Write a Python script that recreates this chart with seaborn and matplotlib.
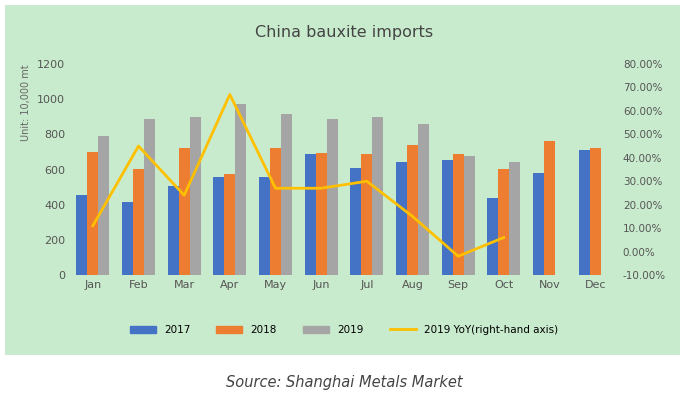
import matplotlib
matplotlib.use("Agg")
import matplotlib.pyplot as plt
import matplotlib.patches as mpatches
import seaborn as sns
import pandas as pd
import numpy as np

months = ["Jan","Feb","Mar","Apr","May","Jun","Jul","Aug","Sep","Oct","Nov","Dec"]
v2017 = [455, 415, 505, 555, 560, 690, 610, 645, 655, 440, 580, 710]
v2018 = [700, 605, 725, 575, 720, 695, 690, 740, 690, 605, 760, 720]
v2019 = [790, 890, 900, 970, 915, 890, 900, 860, 675, 645, np.nan, np.nan]
yoy2019 = [11, 45, 24, 67, 27, 27, 30, 15, -2, 6]

df = pd.DataFrame({"month": months * 3,
                   "year": ["2017"]*12 + ["2018"]*12 + ["2019"]*12,
                   "value": v2017 + v2018 + v2019})

green = "#c9ebcd"
fig = plt.figure(figsize=(6.88, 4.01), dpi=100)
fig.patches.append(mpatches.Rectangle((5/688, 1-355/401), 675/688, 350/401,
                   transform=fig.transFigure, facecolor=green, edgecolor="none", zorder=-10))
ax = fig.add_axes([70/688, 126/401, 548/688, 211/401])
ax.set_facecolor(green)
pal = {"2017": "#4472C4", "2018": "#ED7D31", "2019": "#A5A5A5"}
sns.barplot(data=df, x="month", y="value", hue="year", palette=pal, ax=ax,
            width=0.72, gap=0.0, legend=False, saturation=1)
ax.set_ylim(0, 1200)
ax.set_yticks(range(0, 1201, 200))
ax.set_xlim(-0.5, 11.5)
ax.set_xlabel("")
ax.set_ylabel("Unit: 10,000 mt", fontsize=7, color="#666666", loc="top")
for s in ax.spines.values(): s.set_visible(False)
ax.tick_params(length=0, labelsize=8, colors="#555555")

ax2 = ax.twinx()
sns.lineplot(x=list(range(10)), y=yoy2019, ax=ax2, color="#FFC000", linewidth=2)
ax2.set_ylim(-10, 80)
ax2.set_yticks(range(-10, 81, 10))
ax2.set_yticklabels([f"{t:.2f}%" for t in range(-10, 81, 10)])
for s in ax2.spines.values(): s.set_visible(False)
ax2.tick_params(length=0, labelsize=7.5, colors="#555555")

fig.text(0.5, 1-32/401, "China bauxite imports", ha="center", va="center", fontsize=11.5, color="#444444")
handles = [mpatches.Patch(color=pal[k]) for k in pal] + [plt.Line2D([], [], color="#FFC000", lw=2)]
fig.legend(handles, ["2017", "2018", "2019", "2019 YoY(right-hand axis)"], loc="center",
           bbox_to_anchor=(0.5, 1-330/401), ncol=4, frameon=False, fontsize=7.5,
           handlelength=2.5, columnspacing=2.5)
fig.text(0.5, 1-382/401, "Source: Shanghai Metals Market", ha="center", va="center",
         fontsize=10.5, style="italic", color="#444444")
fig.savefig("out.png", dpi=100)
